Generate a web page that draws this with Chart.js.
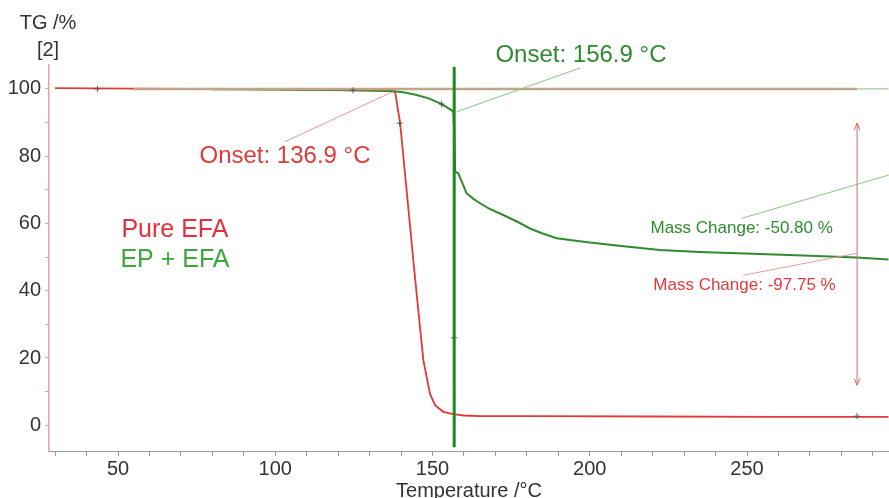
<!DOCTYPE html>
<html>
<head>
<meta charset="utf-8">
<script src="https://cdn.jsdelivr.net/npm/chart.js@4.4.1/dist/chart.umd.min.js"></script>
<style>
  html, body { margin: 0; padding: 0; background: #fff; }
</style>
</head>
<body>
<canvas id="tgChart" width="889" height="498"></canvas>
<script>
// Pure EFA curve (temperature °C / mass %)
const efaTemp = [30, 55, 90, 110, 130, 137, 138.1, 139.7, 141.5, 143.9, 145.5, 147.1, 149.2, 150.8, 153.4, 156.6, 160, 165, 180, 220, 260, 295];
const efaMass = [100.2, 100.1, 99.9, 99.7, 99.5, 99.3, 99.2, 89.9, 72.5, 49, 34, 19.3, 9.4, 6, 4, 3.3, 2.9, 2.7, 2.7, 2.6, 2.5, 2.5];

// EP + EFA curve
const epTemp = [80, 100, 120, 135, 140.7, 145, 149, 152.4, 154.5, 156.6, 156.9, 157.2, 158.2, 159.5, 160.8, 163, 165.1, 168, 172.5, 177, 181, 185, 189.5, 193.7, 200, 210, 222.3, 235, 254.1, 270, 284.8, 295];
const epMass = [99.9, 99.8, 99.7, 99.5, 99, 98.2, 97.1, 95.7, 94.6, 93.3, 88, 75.4, 74.9, 72, 69, 67.3, 66, 64.4, 62.5, 60.5, 58.5, 57, 55.6, 55.1, 54.3, 53.3, 52.1, 51.5, 50.9, 50.4, 49.9, 49.3];

// evaluation marks
const baselineTemp = [55, 285];
const baselineMass = [100, 100];
const baselineTailTemp = [285, 295];
const onsetEpTemp = [156.9, 156.9];
const onsetEpMass = [-6.5, 106.6];
const markTemp = [43.5, 124.7, 139.6, 152.9, 156.9, 285];
const markMass = [100, 99.6, 89.8, 95.5, 26, 2.7];

// leader lines [x0, y0, x1, y1]
const leaderOnsetEfa = [103.1, 84.3, 137.5, 99.2];
const leaderOnsetEp = [157.7, 93.2, 196.9, 106.2];
const leaderMassEp = [248.3, 61.5, 295.1, 74.4];
const leaderMassEfa = [248.8, 44.6, 284.8, 51.1];
const massArrow = [285, 11.9, 89.8];

// axis ticks
const xTickLabels = [50, 100, 150, 200, 250];
const yTickLabels = [0, 20, 40, 60, 80, 100];

// text labels and their anchors in data units
const labelTexts = ['Onset: 156.9 °C', 'Onset: 136.9 °C', 'Pure EFA', 'EP + EFA', 'Mass Change: -50.80 %', 'Mass Change: -97.75 %'];
const labelTemp = [197.2, 103.1, 68.1, 68.1, 248.3, 249.2];
const labelMass = [109.9, 79.8, 58.1, 49.2, 58.5, 41.6];

const RED = '#e03a3a';
const GREEN = '#2e8b2e';
const FONT = "'Liberation Sans', Arial, sans-serif";

const pts = (xs, ys) => xs.map((x, i) => ({ x, y: ys[i] }));
const seg = s => [{ x: s[0], y: s[1] }, { x: s[2], y: s[3] }];

const lineSet = (data, color, width, order) => ({
    data, borderColor: color, borderWidth: width, pointRadius: 0,
    tension: 0, fill: false, order
});

const annotate = {
    id: 'annotate',
    afterDatasetsDraw(chart) {
        const { ctx, scales: { x, y }, chartArea } = chart;
        ctx.save();

        // arrow for mass change
        const ax = x.getPixelForValue(massArrow[0]);
        const ay0 = y.getPixelForValue(massArrow[1]);
        const ay1 = y.getPixelForValue(massArrow[2]);
        ctx.strokeStyle = '#d46a6a';
        ctx.lineWidth = 1;
        ctx.beginPath();
        ctx.moveTo(ax, ay0); ctx.lineTo(ax, ay1);
        ctx.moveTo(ax - 3, ay1 + 7); ctx.lineTo(ax, ay1); ctx.lineTo(ax + 3, ay1 + 7);
        ctx.moveTo(ax - 3, ay0 - 7); ctx.lineTo(ax, ay0); ctx.lineTo(ax + 3, ay0 - 7);
        ctx.stroke();

        // text labels
        const colors = [GREEN, RED, '#e3303a', '#3aa83a', GREEN, RED];
        const sizes = [24, 24, 25, 25, 17, 17];
        ctx.textAlign = 'center';
        ctx.textBaseline = 'middle';
        labelTexts.forEach((t, i) => {
            ctx.fillStyle = colors[i];
            ctx.font = sizes[i] + 'px ' + FONT;
            ctx.fillText(t, x.getPixelForValue(labelTemp[i]), y.getPixelForValue(labelMass[i]));
        });

        // y axis caption
        ctx.fillStyle = '#333';
        ctx.font = '20px ' + FONT;
        ctx.fillText('TG /%', chartArea.left - 1, chartArea.top - 42);
        ctx.fillText('[2]', chartArea.left - 1, chartArea.top - 15);
        ctx.restore();
    }
};

new Chart(document.getElementById('tgChart'), {
    type: 'line',
    data: {
        datasets: [
            lineSet(pts(onsetEpTemp, onsetEpMass), '#1f8a1f', 3, 0),
            {
                data: pts(markTemp, markMass), showLine: false, pointStyle: 'cross',
                pointRadius: 3, pointBorderColor: '#555', pointBorderWidth: 1, order: 1
            },
            lineSet(seg(leaderOnsetEfa), '#e89a9a', 1, 2),
            lineSet(seg(leaderOnsetEp), '#86c686', 1, 2),
            lineSet(seg(leaderMassEp), '#86c686', 1, 2),
            lineSet(seg(leaderMassEfa), '#e89a9a', 1, 2),
            lineSet(pts(baselineTemp, baselineMass), '#c2a487', 2.5, 3),
            lineSet(pts(baselineTailTemp, baselineMass), '#a8d8a8', 1.5, 3),
            lineSet(pts(epTemp, epMass), GREEN, 2, 4),
            lineSet(pts(efaTemp, efaMass), RED, 1.8, 5)
        ]
    },
    options: {
        responsive: false,
        animation: false,
        devicePixelRatio: 1,
        layout: { autoPadding: false, padding: { top: 65, right: 0, left: 0, bottom: 0 } },
        plugins: { legend: { display: false }, tooltip: { enabled: false } },
        scales: {
            x: {
                type: 'linear', min: 28.06, max: 295.15,
                afterFit: s => { s.height = 47; s.paddingLeft = 0; s.paddingRight = 0; },
                border: { color: '#9a9a9a', width: 1 },
                grid: { drawOnChartArea: false, tickLength: 5, color: '#9a9a9a' },
                ticks: {
                    stepSize: 10, includeBounds: false, autoSkip: false, maxRotation: 0,
                    padding: 1, color: '#333', font: { size: 20, family: FONT },
                    callback: v => xTickLabels.includes(v) ? v : ''
                },
                title: {
                    display: true, text: 'Temperature /°C', color: '#333',
                    font: { size: 20, family: FONT }, padding: { top: 0, bottom: -5 }
                }
            },
            y: {
                min: -7.65, max: 107.1,
                afterFit: s => { s.width = 49; s.paddingTop = 0; s.paddingBottom = 0; },
                border: { color: '#e3a3a3', width: 1.5 },
                grid: { drawOnChartArea: false, tickLength: 4, color: '#e3a3a3' },
                ticks: {
                    stepSize: 10, includeBounds: false, autoSkip: false,
                    padding: 4, color: '#333', font: { size: 20, family: FONT },
                    callback: v => yTickLabels.includes(v) ? v : ''
                }
            }
        }
    },
    plugins: [annotate]
});
</script>
</body>
</html>
